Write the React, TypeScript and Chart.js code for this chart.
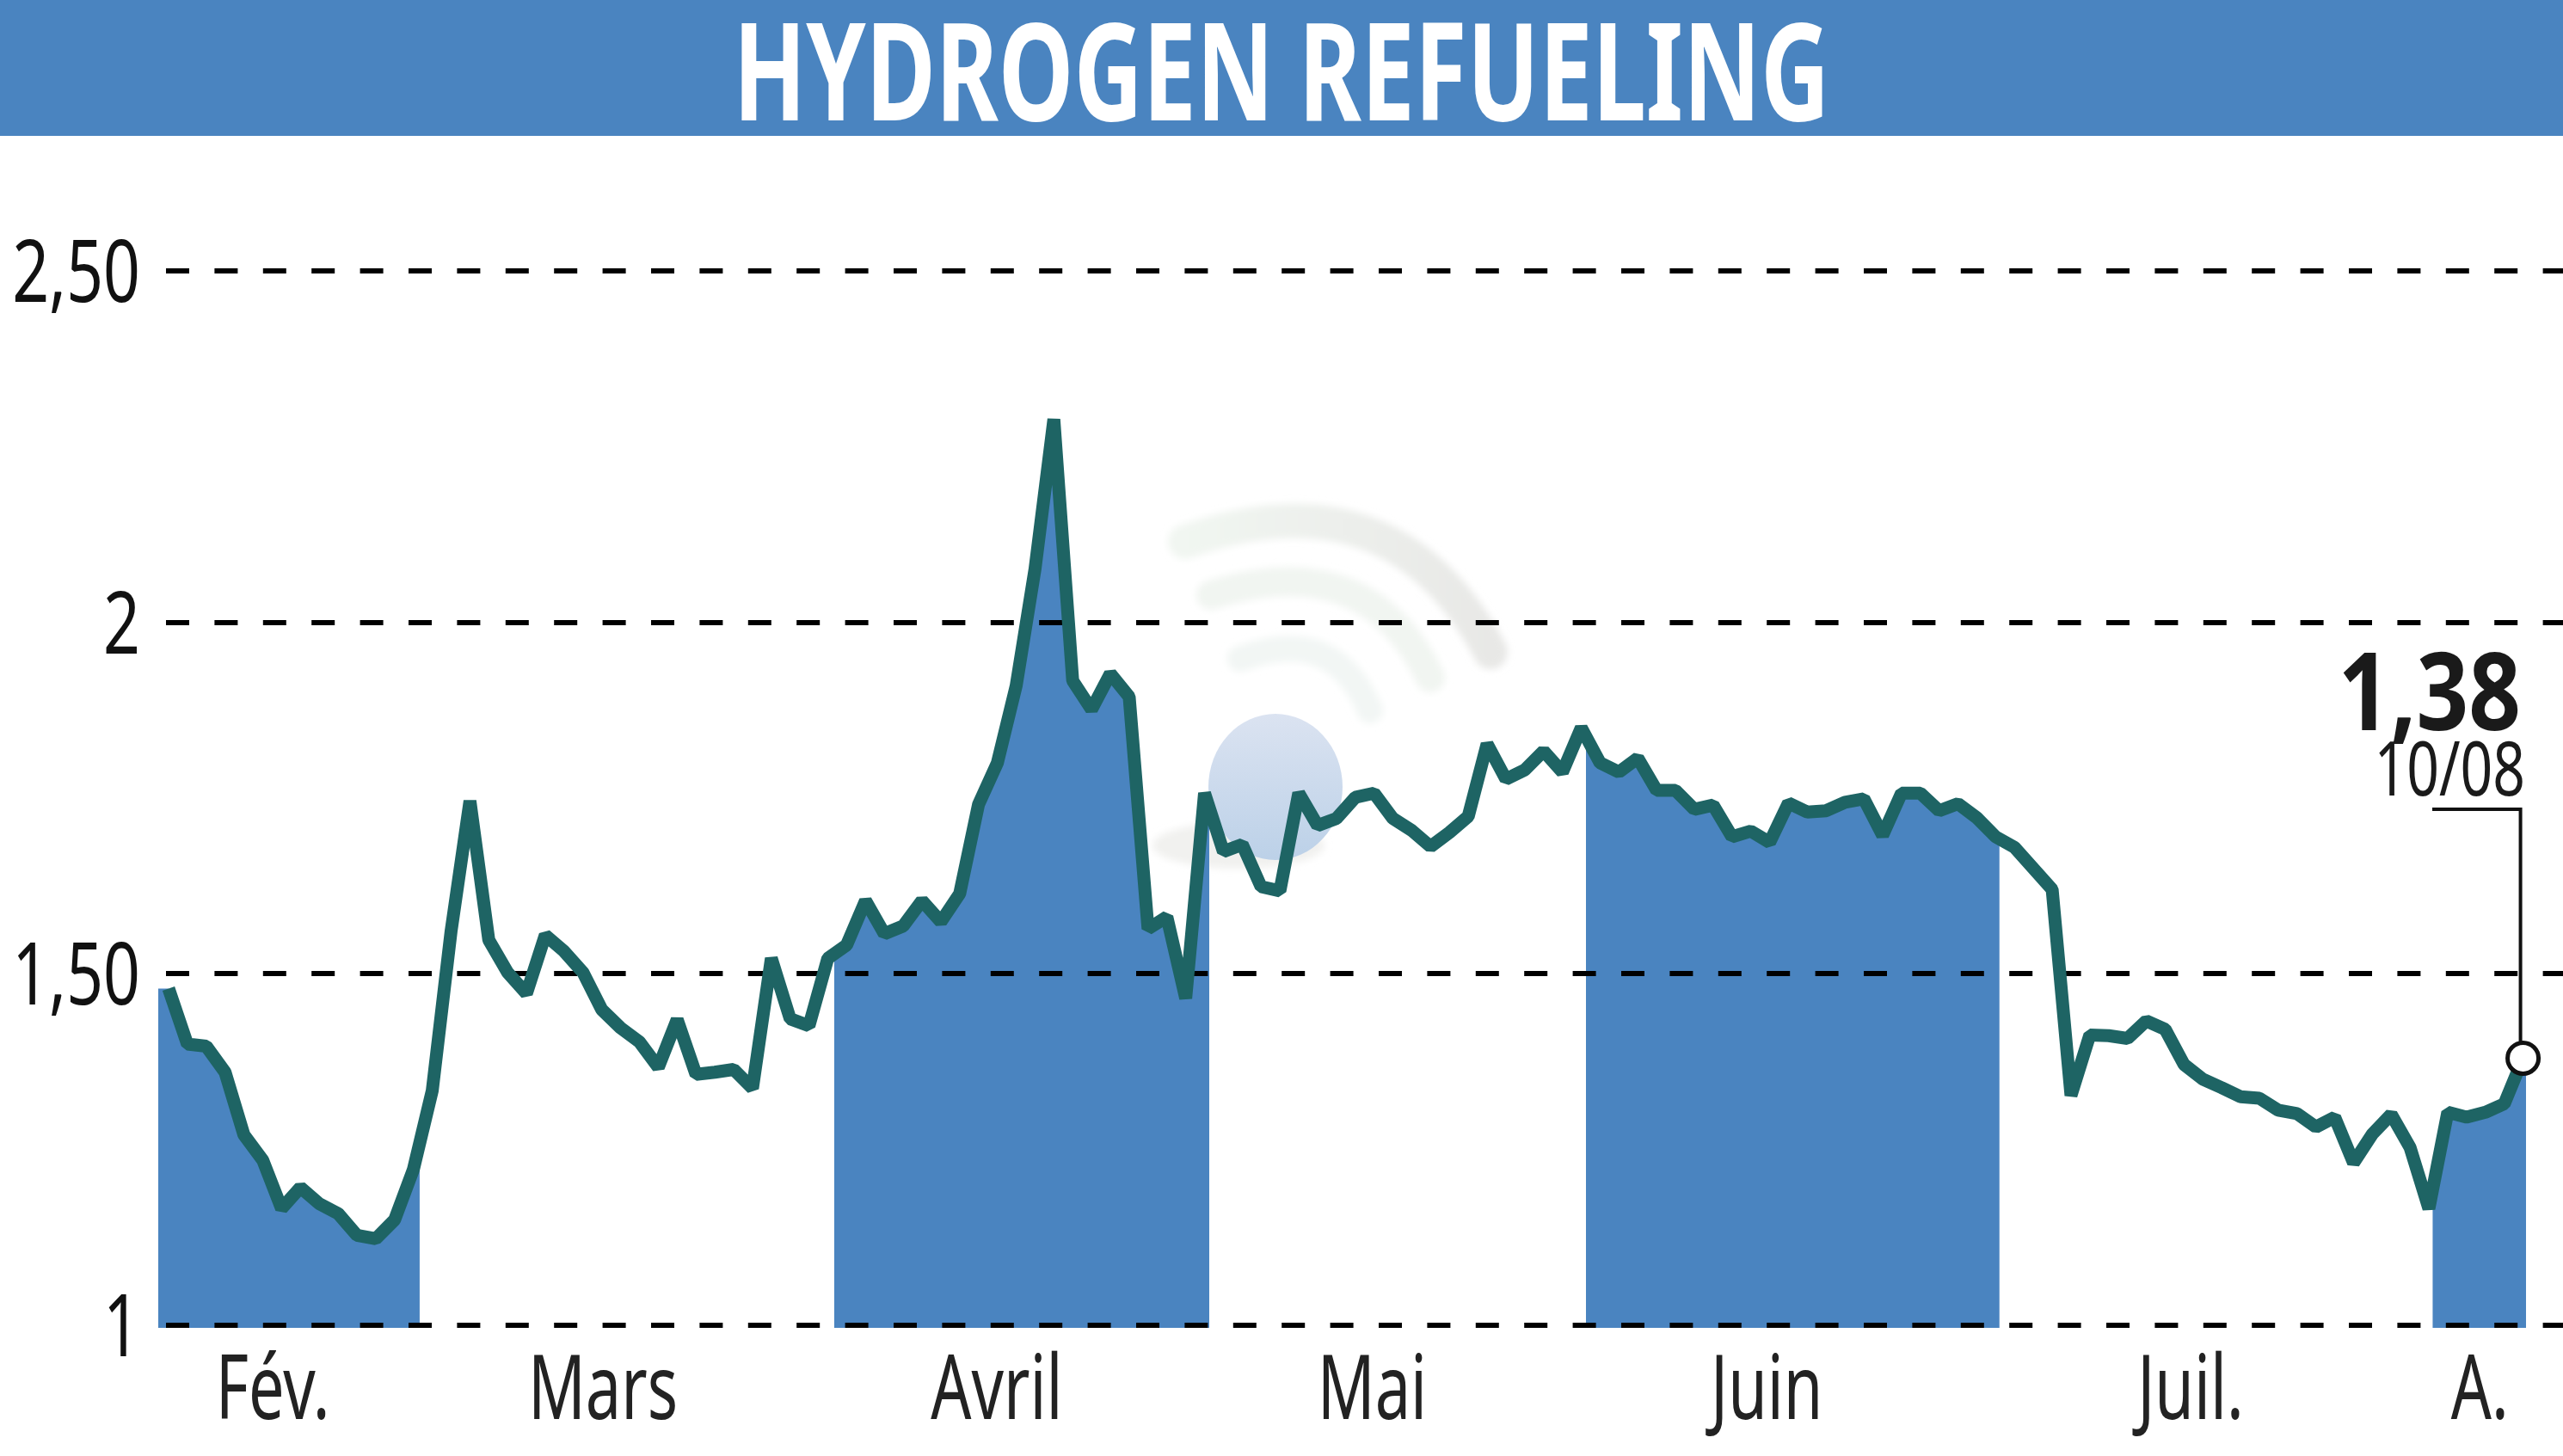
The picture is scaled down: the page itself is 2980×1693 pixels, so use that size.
import React, { useEffect, useRef } from "react";
import { Chart, LinearScale, LineController, LineElement, PointElement, Filler } from "chart.js";

const titleText = "HYDROGEN REFUELING";
const prices = [
  1.479, 1.4, 1.397, 1.36, 1.271, 1.235, 1.166, 1.196, 1.173, 1.159,
  1.128, 1.123, 1.15, 1.222, 1.334, 1.561, 1.746, 1.548, 1.502, 1.472,
  1.555, 1.532, 1.502, 1.449, 1.423, 1.403, 1.367, 1.435, 1.357, 1.36,
  1.364, 1.337, 1.522, 1.436, 1.426, 1.522, 1.541,
  1.604, 1.557, 1.568, 1.604, 1.574, 1.614, 1.741, 1.8, 1.91, 2.076,
  2.289, 1.917, 1.876, 1.927, 1.894, 1.564, 1.581, 1.465, 1.757, 1.674,
  1.684, 1.624, 1.618, 1.757, 1.711, 1.721, 1.751, 1.757, 1.721, 1.704,
  1.681, 1.701, 1.724, 1.827, 1.777, 1.79, 1.817, 1.787, 1.85, 1.8,
  1.787, 1.807,
  1.761, 1.761, 1.734, 1.74, 1.695, 1.703, 1.687, 1.743, 1.73, 1.732,
  1.744, 1.749, 1.697, 1.757, 1.757, 1.732, 1.742, 1.722, 1.695, 1.68,
  1.65, 1.62, 1.327, 1.413, 1.412, 1.408, 1.433, 1.421, 1.371, 1.35,
  1.338, 1.325, 1.323, 1.306, 1.301, 1.282, 1.296, 1.231, 1.272, 1.3,
  1.253, 1.166, 1.303, 1.296, 1.303, 1.315, 1.38,
];
const monthLabels = ["Fév.", "Mars", "Avril", "Mai", "Juin", "Juil.", "A."];
const monthLabelPositions = [5.53, 23.06, 43.97, 63.9, 84.85, 107.35, 122.7];
const shadedStarts = [-0.548, 35.34, 75.25, 120.2];
const shadedEnds = [13.33, 55.25, 97.2, 125.16];
const yTickValues = [1, 1.5, 2, 2.5];
const yTickLabels = ["1", "1,50", "2", "2,50"];
const lastValueLabel = "1,38";
const lastDateLabel = "10/08";

const BLUE = "#4a84c0";
const LINE = "#1e6464";
const FONT = '"Noto Sans", "Open Sans", sans-serif';

function squeezedText(ctx: any, text: string, x: number, y: number, k: number, align: string) {
  ctx.save();
  ctx.translate(x, y);
  ctx.scale(k, 1);
  ctx.textAlign = align;
  ctx.textBaseline = "alphabetic";
  ctx.fillText(text, 0, 0);
  ctx.restore();
}

// Clip the area fill to the shaded months: these wrap the Filler plugin, in registration order.
const bandClipOpen = {
  id: "bandClipOpen",
  beforeDraw(chart: any) {
    const { ctx, chartArea, scales } = chart;
    ctx.save();
    ctx.beginPath();
    shadedStarts.forEach((s, i) => {
      const a = scales.x.getPixelForValue(s);
      const b = scales.x.getPixelForValue(shadedEnds[i]);
      ctx.rect(a, chartArea.top, b - a, chartArea.bottom - chartArea.top);
    });
    ctx.clip();
  },
};
const bandClipClose = {
  id: "bandClipClose",
  beforeDraw(chart: any) {
    chart.ctx.restore();
  },
};
Chart.register(LinearScale, LineController, LineElement, PointElement, bandClipOpen, Filler, bandClipClose);

// Condensed axis labels and the last-value callout, placed through the chart's scales.
const condensedText = {
  id: "condensedText",
  afterDraw(chart: any) {
    const { ctx, scales, chartArea } = chart;
    ctx.save();
    ctx.font = `100px ${FONT}`;
    ctx.fillStyle = "#111111";
    scales.y.ticks.forEach((t: any) => {
      squeezedText(ctx, t.label, chartArea.left - 21, scales.y.getPixelForValue(t.value) + 36, 0.75, "right");
    });
    ctx.font = `104px ${FONT}`;
    ctx.fillStyle = "#222222";
    scales.x.ticks.forEach((t: any) => {
      squeezedText(ctx, t.label, scales.x.getPixelForValue(t.value), chartArea.bottom + 106, 0.71, "center");
    });

    const i = prices.length - 1;
    const px = scales.x.getPixelForValue(i);
    const py = scales.y.getPixelForValue(prices[i]);
    ctx.strokeStyle = "#111";
    ctx.lineWidth = 4;
    ctx.beginPath();
    ctx.moveTo(2828, 941);
    ctx.lineTo(px - 3, 941);
    ctx.lineTo(px - 3, py - 18);
    ctx.stroke();
    ctx.fillStyle = "#1a1a1a";
    ctx.font = `bold 125px ${FONT}`;
    squeezedText(ctx, lastValueLabel, 2931, 849, 0.85, "right");
    ctx.font = `88px ${FONT}`;
    squeezedText(ctx, lastDateLabel, 2936, 925, 0.75, "right");
    ctx.restore();
  },
};

export default function App() {
  const ref = useRef<HTMLCanvasElement>(null);
  const titleRef = useRef<HTMLSpanElement>(null);
  useEffect(() => {
    const span = titleRef.current as HTMLSpanElement;
    span.style.transform = `scaleX(${1275 / span.offsetWidth})`;
    const lastIndex = prices.length - 1;
    const chart = new Chart(ref.current as HTMLCanvasElement, {
      type: "line",
      data: {
        datasets: [
          {
            data: prices.map((y, x) => ({ x, y })),
            borderColor: LINE,
            borderWidth: 15,
            borderJoinStyle: "bevel",
            tension: 0,
            fill: false,
            order: 0,
            pointRadius: (c: any) => (c.dataIndex === lastIndex ? 18 : 0),
            pointBackgroundColor: "#ffffff",
            pointBorderColor: "#111111",
            pointBorderWidth: 5,
          },
          {
            data: [
              { x: shadedStarts[0], y: prices[0] },
              ...prices.map((y, x) => ({ x, y })),
              { x: shadedEnds[shadedEnds.length - 1], y: prices[lastIndex] },
            ],
            borderWidth: 0,
            pointRadius: 0,
            tension: 0,
            fill: "start",
            backgroundColor: BLUE,
            order: 1,
          },
        ],
      },
      options: {
        responsive: false,
        animation: false,
        devicePixelRatio: 1,
        events: [],
        layout: { autoPadding: false, padding: { top: 315, left: 0, right: 0, bottom: 0 } },
        plugins: { filler: { drawTime: "beforeDraw" } },
        scales: {
          x: {
            type: "linear",
            min: -0.548,
            max: 127.12,
            afterBuildTicks: (s: any) => {
              s.ticks = monthLabelPositions.map((value) => ({ value }));
            },
            afterFit: (s: any) => {
              s.height = 149;
            },
            grid: { display: false },
            border: { display: false },
            ticks: {
              display: false,
              autoSkip: false,
              maxRotation: 0,
              minRotation: 0,
              callback: (_v: any, i: number) => monthLabels[i],
            },
          },
          y: {
            type: "linear",
            min: 0.9963,
            max: 2.5,
            afterBuildTicks: (s: any) => {
              s.ticks = yTickValues.map((value) => ({ value }));
            },
            afterFit: (s: any) => {
              s.width = 184;
            },
            grid: {
              color: "#000000",
              lineWidth: 6,
              drawTicks: false,
            },
            border: { display: false, dash: [27, 29.4], dashOffset: 47.4 },
            ticks: {
              display: false,
              autoSkip: false,
              callback: (_v: any, i: number) => yTickLabels[i],
            },
          },
        },
      },
      plugins: [condensedText],
    } as any);
    return () => chart.destroy();
  }, []);

  return (
    <div style={{ position: "absolute", left: 0, top: 0, width: 2980, height: 1693, background: "#fff", overflow: "hidden" }}>
      <svg width={2980} height={1693} style={{ position: "absolute", left: 0, top: 0 }}>
        <defs>
          <linearGradient id="ball" x1="0" y1="0" x2="0" y2="1">
            <stop offset="0" stopColor="#dbe3f1" />
            <stop offset="1" stopColor="#bcd1e8" />
          </linearGradient>
          <linearGradient id="arc" x1="0" y1="0" x2="1" y2="0">
            <stop offset="0" stopColor="#f1f6f1" />
            <stop offset="1" stopColor="#e8e8e6" />
          </linearGradient>
          <filter id="soft"><feGaussianBlur stdDeviation="4" /></filter>
        </defs>
        <g filter="url(#soft)">
          <ellipse cx={1440} cy={983} rx={100} ry={27} fill="#f1f1ef" />
          <path d="M1378 630 Q1620 545 1733 758" stroke="url(#arc)" strokeWidth={40} strokeLinecap="round" fill="none" />
          <path d="M1408 692 Q1590 635 1663 788" stroke="#f1f5f1" strokeWidth={34} strokeLinecap="round" fill="none" />
          <path d="M1442 766 Q1550 725 1593 826" stroke="#f2f6f4" strokeWidth={30} strokeLinecap="round" fill="none" />
        </g>
        <ellipse cx={1483} cy={915} rx={78} ry={85} fill="url(#ball)" />
      </svg>
      <canvas ref={ref} width={2980} height={1693} style={{ position: "absolute", left: 0, top: 0, display: "block" }} />
      <div
        style={{
          position: "absolute", left: 0, top: 0, width: 2980, height: 158, background: BLUE, color: "#fff",
          fontFamily: FONT, fontWeight: "bold", fontSize: 158, lineHeight: "158px", textAlign: "center", whiteSpace: "nowrap",
        }}
      >
        <span ref={titleRef} style={{ display: "inline-block", transformOrigin: "center" }}>{titleText}</span>
      </div>
    </div>
  );
}
